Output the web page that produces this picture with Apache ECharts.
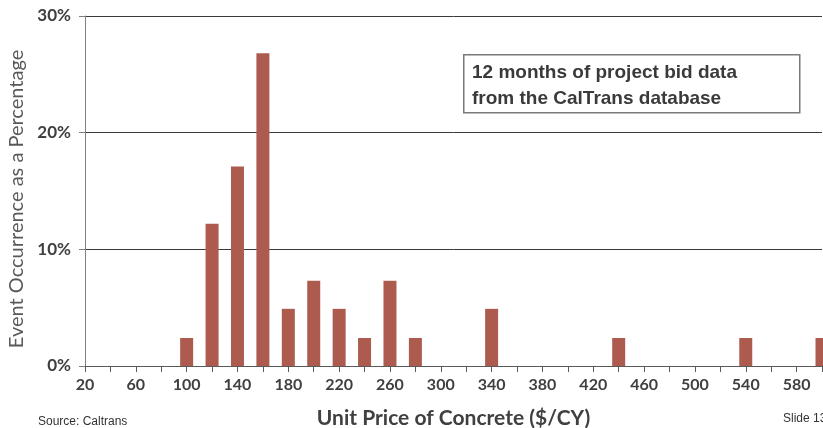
<!DOCTYPE html>
<html>
<head>
<meta charset="utf-8">
<script src="https://cdn.jsdelivr.net/npm/echarts@6/dist/echarts.min.js"></script>
<style>
  html, body { margin: 0; padding: 0; background: #ffffff; }
  #chart { width: 823px; height: 428px; }
</style>
</head>
<body>
<div id="chart"></div>
<script>
// unit price bins ($/CY), every 20
const priceBins = ['20', '40', '60', '80', '100', '120', '140', '160', '180', '200',
  '220', '240', '260', '280', '300', '320', '340', '360', '380', '400',
  '420', '440', '460', '480', '500', '520', '540', '560', '580', '600']
// event occurrence (%) per bin
const occurrence = [0, 0, 0, 0, 2.4, 12.2, 17.1, 26.8, 4.9, 7.3,
  4.9, 2.4, 7.3, 2.4, 0, 0, 4.9, 0, 0, 0,
  0, 2.4, 0, 0, 0, 0, 2.4, 0, 0, 2.4]
const yTicks = [0, 10, 20, 30]

const chart = echarts.init(document.getElementById('chart'))

const labelColor = '#404040'
const font = 'Lato, "Open Sans", sans-serif'

const option = {
  animation: false,
  grid: {
    left: 85,
    right: 1,
    top: 16,
    bottom: 62,
    outerBoundsMode: 'none'
  },
  xAxis: {
    type: 'category',
    data: priceBins,
    boundaryGap: false,
    name: 'Unit Price of Concrete ($/CY)',
    nameLocation: 'middle',
    nameGap: 42,
    nameTextStyle: {
      color: labelColor,
      fontFamily: font,
      fontWeight: 'bold',
      fontSize: 21
    },
    axisLine: { lineStyle: { color: '#595959', width: 1 } },
    axisTick: { interval: 0, length: 6, lineStyle: { color: '#595959' } },
    axisLabel: {
      interval: 1,
      color: labelColor,
      fontFamily: font,
      fontWeight: 'bold',
      fontSize: 16,
      margin: 11
    },
    splitLine: { show: false }
  },
  yAxis: {
    type: 'value',
    min: yTicks[0],
    max: yTicks[yTicks.length - 1],
    interval: 10,
    name: 'Event Occurrence as a Percentage',
    nameLocation: 'middle',
    nameGap: 58,
    nameTextStyle: {
      color: '#595959',
      fontFamily: font,
      fontSize: 20,
      padding: [0, 16, 0, 0]
    },
    axisLine: { show: true, lineStyle: { color: '#7f7f7f', width: 1 } },
    axisTick: { show: true, length: 6, lineStyle: { color: '#7f7f7f' } },
    axisLabel: {
      formatter: '{value}%',
      color: labelColor,
      fontFamily: font,
      fontWeight: 'bold',
      fontSize: 17,
      margin: 14
    },
    splitLine: { lineStyle: { color: '#3a3a3a', width: 1 } }
  },
  series: [
    {
      type: 'bar',
      data: occurrence,
      barWidth: 13,
      itemStyle: { color: '#ae5b4f' }
    }
  ],
  graphic: [
    {
      type: 'rect',
      left: 463,
      top: 54,
      shape: { width: 336, height: 58 },
      style: { fill: '#ffffff', stroke: '#7a7a7a', lineWidth: 1.5 },
      z: 10
    },
    {
      type: 'text',
      left: 472,
      top: 60,
      style: {
        text: '12 months of project bid data\nfrom the CalTrans database',
        fill: '#3a3a3a',
        font: 'bold 19px "Liberation Sans", Arial, sans-serif',
        lineHeight: 26
      },
      z: 11
    },
    {
      type: 'text',
      left: 38,
      top: 416,
      style: {
        text: 'Source: Caltrans',
        fill: '#333333',
        font: '12px "Liberation Sans", Arial, sans-serif'
      }
    },
    {
      type: 'text',
      left: 783,
      top: 413,
      style: {
        text: 'Slide 13',
        fill: '#333333',
        font: '12px "Liberation Sans", Arial, sans-serif'
      }
    }
  ]
}

chart.setOption(option)
</script>
</body>
</html>
